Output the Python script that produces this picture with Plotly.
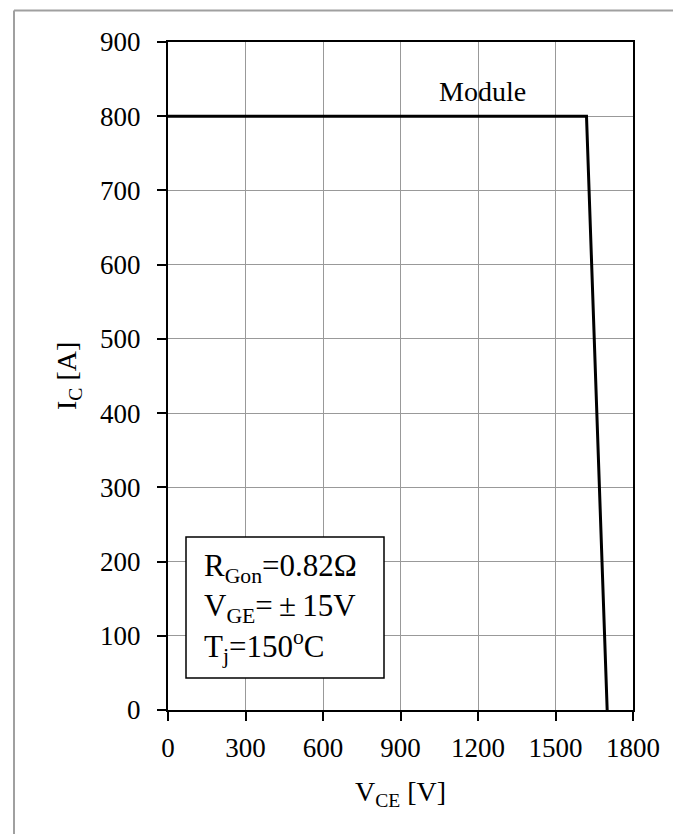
import plotly.graph_objects as go

# Data
vce = [0, 1620, 1700]
ic = [800, 800, 0]
x_ticks = [0, 300, 600, 900, 1200, 1500, 1800]
y_ticks = [0, 100, 200, 300, 400, 500, 600, 700, 800, 900]

FONT = "Liberation Serif, Times New Roman, serif"

fig = go.Figure()
fig.add_trace(go.Scatter(x=vce, y=ic, mode="lines",
                         line=dict(color="black", width=3), showlegend=False,
                         hoverinfo="skip"))

L, R, T, B = 160, 56, 34, 132
W, H = 681, 834
pw, ph = W - L - R, H - T - B

def px(x):
    return (x - L) / pw

def py(y):
    return (H - B - y) / ph

axis_common = dict(showline=True, linecolor="black", linewidth=2, mirror=True,
                   ticks="outside", ticklen=9, tickwidth=1.5, tickcolor="black",
                   showgrid=True, gridcolor="#999999", gridwidth=1.2,
                   zeroline=False, tickfont=dict(family=FONT, size=27, color="black"))

fig.update_xaxes(range=[0, 1800], tickvals=x_ticks, ticklabelstandoff=4, **axis_common)
fig.update_yaxes(range=[0, 900], tickvals=y_ticks, ticklabelstandoff=11, **axis_common)

shapes = []
# info box
shapes.append(dict(type="rect", xref="paper", yref="paper",
                   x0=px(178), x1=px(376), y0=py(670), y1=py(529),
                   line=dict(color="black", width=1.5), fillcolor="white", layer="above"))
# outer frame
shapes.append(dict(type="line", xref="paper", yref="paper", x0=px(6), x1=px(6),
                   y0=py(2.5), y1=py(832.5), line=dict(color="#a0a0a0", width=2)))
shapes.append(dict(type="line", xref="paper", yref="paper", x0=px(6), x1=px(690),
                   y0=py(2.5), y1=py(2.5), line=dict(color="#a0a0a0", width=2)))
shapes.append(dict(type="line", xref="paper", yref="paper", x0=px(6), x1=px(690),
                   y0=py(832.5), y1=py(832.5), line=dict(color="#d0d0d0", width=2)))

box_text = ("R<sub>Gon</sub>=0.82Ω<br>"
            "V<sub>GE</sub>=\u2009±\u200915V<br>"
            "T<sub>j</sub>=150<sup>o</sup>C")

annotations = [
    dict(text="Module", xref="paper", yref="paper", x=px(474), y=py(84),
         xanchor="center", yanchor="middle",
         showarrow=False, font=dict(family=FONT, size=28, color="black")),
    dict(text=box_text,
         xref="paper", yref="paper", x=px(194), y=py(600),
         xanchor="left", yanchor="middle", align="left",
         showarrow=False, font=dict(family=FONT, size=31, color="black")),
    dict(text="V<sub>CE</sub> [V]", xref="paper", yref="paper", x=px(392), y=py(785),
         xanchor="center", yanchor="middle",
         showarrow=False, font=dict(family=FONT, size=28, color="black")),
    dict(text="I<sub>C</sub> [A]", xref="paper", yref="paper", x=px(60), y=py(368),
         xanchor="center", yanchor="middle",
         textangle=-90, showarrow=False, font=dict(family=FONT, size=28, color="black")),
]

fig.update_layout(width=W, height=H, margin=dict(l=L, r=R, t=T, b=B),
                  plot_bgcolor="white", paper_bgcolor="white",
                  shapes=shapes, annotations=annotations)

fig.write_html("out.html")
